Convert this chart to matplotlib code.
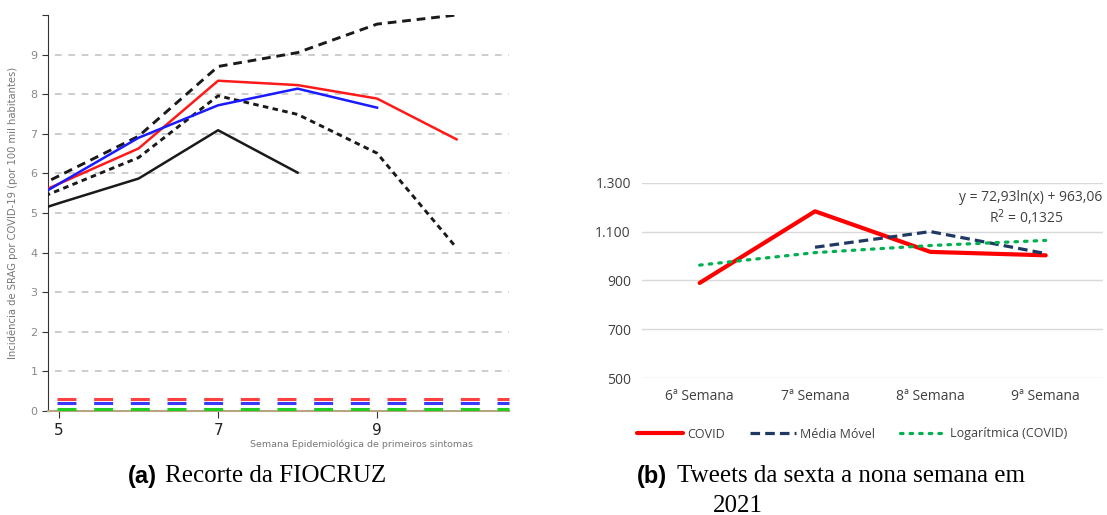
import numpy as np
import matplotlib.pyplot as plt

# (a) FIOCRUZ - incidencia de SRAG por semana
semanas = [4, 5, 6, 7, 8, 9, 10]
obs = [4.6, 5.25, 5.87, 7.09, 6.02, np.nan, np.nan]
vermelho = [4.84, 5.74, 6.63, 8.34, 8.23, 7.89, 6.86]
azul = [4.58, 5.74, 6.90, 7.72, 8.14, 7.66, np.nan]
ic_sup = [4.94, 5.94, 6.94, 8.70, 9.05, 9.77, 10.0]
ic_inf = [4.76, 5.58, 6.40, 7.96, 7.49, 6.51, 4.12]
base_nivel = [0.31, 0.20, 0.06]
base_cores = ['#ff4040', '#3a3aff', '#22cc22']

# (b) Tweets
categorias = ['6ª Semana', '7ª Semana', '8ª Semana', '9ª Semana']
covid = [890, 1183, 1017, 1003]
media_movel = [np.nan, 1036, 1100, 1010]
logaritmica = [963, 1014, 1043, 1064]

fig = plt.figure(figsize=(11.07, 5.15), dpi=100)

# ---------- painel (a)
ax = fig.add_axes([48/1107, 1-411/515, (509-48)/1107, (411-15)/515])
ax.set_xlim(4.86, 10.66)
ax.set_ylim(0, 10)
for v in range(1, 10):
    ax.plot([4.95, 10.66], [v, v], color='#c4c4c4', lw=1.2, ls=(0, (4, 4)), zorder=1)
for nivel, cor in zip(base_nivel, base_cores):
    ax.plot([4.97, 10.66], [nivel, nivel], color=cor, lw=2.2,
            ls=(0, (6.2, 5.8)), zorder=5, clip_on=False)
ax.plot(semanas, obs, color='#1a1a1a', lw=1.8, zorder=3)
ax.plot(semanas, ic_sup, color='#1a1a1a', lw=2.1, ls=(0, (3, 2)), zorder=3)
ax.plot(semanas, ic_inf, color='#1a1a1a', lw=2.1, ls=(0, (1.9, 1.5)), zorder=3)
ax.plot(semanas, vermelho, color='#ff1a1a', lw=1.8, zorder=4)
ax.plot(semanas, azul, color='#1a1aff', lw=1.8, zorder=4)

ax.spines['top'].set_visible(False)
ax.spines['right'].set_visible(False)
ax.spines['left'].set_color('#333333')
ax.spines['bottom'].set_color('#b8a680')
ax.spines['bottom'].set_linewidth(1.5)
ax.set_yticks(range(0, 11))
ax.set_yticklabels([str(i) for i in range(0, 10)] + [''])
ax.tick_params(axis='y', colors='#333333', labelcolor='#888888', labelsize=8, length=4)
ax.set_xticks([5, 7, 9])
ax.tick_params(axis='x', colors='#333333', labelcolor='#222222', labelsize=11, length=5)
ax.set_xlabel('Semana Epidemiológica de primeiros sintomas', fontsize=6.8,
              color='#777777', x=0.679, labelpad=1)
ax.set_ylabel('Incidência de SRAG por COVID-19 (por 100 mil habitantes)', fontsize=7.2,
              color='#777777', labelpad=9, y=0.5)

fig.text(128/1107, 1-476/515, '(a)', family='Liberation Sans', weight='bold',
         fontsize=17, va='center')
fig.text(165/1107, 1-476/515, 'Recorte da FIOCRUZ', family='Liberation Serif',
         fontsize=18, va='center')

# ---------- painel (b)
bx = fig.add_axes([642/1107, 1-378.3/515, (1103.4-642)/1107, (378.3-182.7)/515])
x = np.arange(len(categorias))
bx.set_xlim(-0.5, 3.5)
bx.set_ylim(500, 1300)
bx.set_yticks([500, 700, 900, 1100, 1300])
bx.set_yticklabels(['500', '700', '900', '1.100', '1.300'])
bx.grid(axis='y', color='#d9d9d9', lw=1)
bx.set_axisbelow(True)
for s in bx.spines.values():
    s.set_visible(False)
bx.set_xticks(x)
bx.set_xticklabels(categorias)
bx.tick_params(length=0, labelsize=10, labelcolor='#404040', pad=8)
for lab in bx.get_xticklabels() + bx.get_yticklabels():
    lab.set_family('Open Sans')

l1, = bx.plot(x, covid, color='#ff0000', lw=3, solid_capstyle='round', label='COVID')
l2, = bx.plot(x, media_movel, color='#1f3864', lw=2.3, ls=(0, (3, 1.6)),
              label='Média Móvel')
l3, = bx.plot(x, logaritmica, color='#00b050', lw=2.3, ls=(0, (0.8, 2.2)),
              dash_capstyle='round', label='Logarítmica (COVID)')
bx.text(3.49, 1239, 'y = 72,93ln(x) + 963,06', ha='right', va='center',
        fontsize=10, color='#404040', family='Open Sans')
bx.text(2.83, 1157, 'R$^2$ = 0,1325', ha='center', va='center',
        fontsize=10, color='#404040', family='Open Sans')

fig.legend(handles=[l1, l2, l3], loc='center', bbox_to_anchor=(852/1107, 1-434/515),
           ncol=3, frameon=False, prop={'family': 'Open Sans', 'size': 9},
           handlelength=3.7, handletextpad=0.3, columnspacing=2.0,
           labelcolor='#404040')

fig.text(637/1107, 1-476/515, '(b)', family='Liberation Sans', weight='bold',
         fontsize=17, va='center')
fig.text(677/1107, 1-476/515, 'Tweets da sexta a nona semana em', family='Liberation Serif',
         fontsize=18, va='center')
fig.text(713/1107, 1-506/515, '2021', family='Liberation Serif',
         fontsize=18, va='center')

fig.savefig('out.png', dpi=100)
